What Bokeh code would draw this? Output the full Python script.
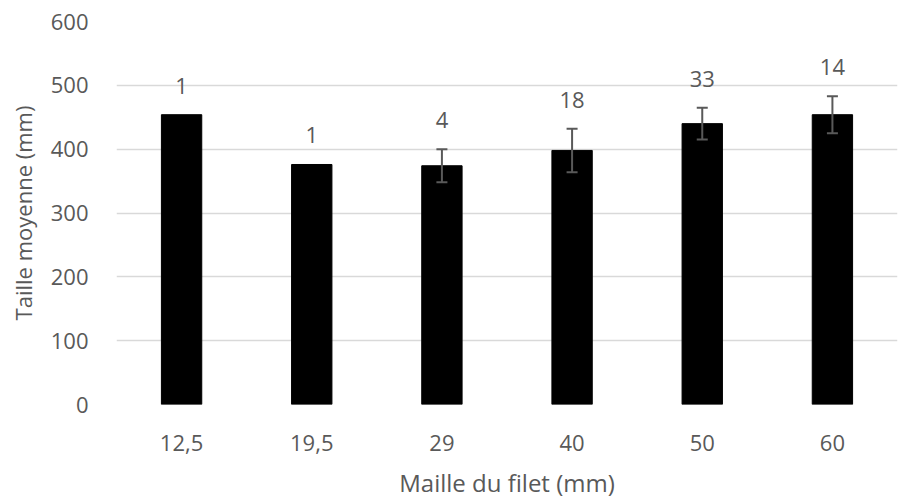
from bokeh.plotting import figure
from bokeh.models import ColumnDataSource, Whisker, LabelSet, TeeHead, Range1d, FixedTicker
from bokeh.core.properties import value
from bokeh.embed import file_html
from bokeh.resources import INLINE

maille = ["12,5", "19,5", "29", "40", "50", "60"]
moyenne = [454, 376, 374, 398, 440, 454]
erreur = [0, 0, 26, 34, 25, 29]
effectif = ["1", "1", "4", "18", "33", "14"]
y_ticks = [0, 100, 200, 300, 400, 500, 600]

FONT = "Open Sans"
TXT = "#595959"
FS = "22px"

top = [m + e for m, e in zip(moyenne, erreur)]
src = ColumnDataSource(dict(x=maille, y=moyenne, top=top, n=effectif))

ex = [x for x, e in zip(maille, erreur) if e > 0]
em = [m for m, e in zip(moyenne, erreur) if e > 0]
ee = [e for e in erreur if e > 0]
err_src = ColumnDataSource(dict(x=ex, upper=[m + e for m, e in zip(em, ee)],
                                lower=[m - e for m, e in zip(em, ee)]))

p = figure(x_range=maille, width=899, height=501, output_backend="svg",
           toolbar_location=None, min_border_left=116, min_border_right=2,
           min_border_top=21, min_border_bottom=95)
p.y_range = Range1d(0, 600)
p.outline_line_color = None

p.vbar(x="x", top="y", bottom=0, width=0.31, source=src,
       fill_color="black", line_color="black")

w = Whisker(base="x", upper="upper", lower="lower", source=err_src,
            line_color="#595959", line_width=2, level="overlay",
            upper_head=TeeHead(size=11, line_color="#595959", line_width=2),
            lower_head=TeeHead(size=11, line_color="#595959", line_width=2))
p.add_layout(w)

labels = LabelSet(x="x", y="top", text="n", source=src, y_offset=29,
                  text_align="center", text_baseline="middle",
                  text_font=value(FONT), text_font_size=value(FS),
                  text_color=value(TXT))
p.add_layout(labels)

p.xgrid.grid_line_color = None
p.ygrid.grid_line_color = "#d9d9d9"
p.ygrid.grid_line_width = 1.5
p.yaxis.ticker = FixedTicker(ticks=y_ticks)

for ax in (p.xaxis[0], p.yaxis[0]):
    ax.axis_line_color = None
    ax.major_tick_line_color = None
    ax.minor_tick_line_color = None
    ax.major_tick_out = 0
    ax.major_tick_in = 0
    ax.minor_tick_out = 0
    ax.major_label_text_font = FONT
    ax.major_label_text_font_size = FS
    ax.major_label_text_color = TXT
    ax.axis_label_text_font = FONT
    ax.axis_label_text_font_size = FS
    ax.axis_label_text_color = TXT
    ax.axis_label_text_font_style = "normal"

p.xaxis.axis_label = "Maille du filet (mm)"
p.yaxis.axis_label = "Taille moyenne (mm)"
p.xaxis.axis_label_text_font_size = "24px"
p.xaxis.major_label_standoff = 30
p.xaxis.axis_label_standoff = 12
p.yaxis.major_label_standoff = 28
p.yaxis.axis_label_standoff = 10

open("out.html", "w").write(file_html(p, INLINE))
